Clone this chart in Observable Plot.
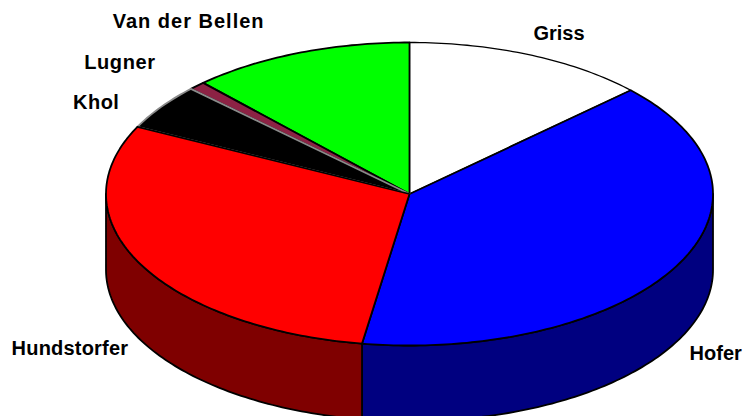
<!DOCTYPE html>
<html>
<head>
<meta charset="utf-8">
<style>html,body{margin:0;padding:0;background:#fff;overflow:hidden}svg{display:block}</style>
<script src="https://cdn.jsdelivr.net/npm/d3@7"></script>
<script src="https://cdn.jsdelivr.net/npm/@observablehq/plot@0.6"></script>
</head>
<body>
<script>
// Data (share of the pie, clockwise from the top)
const names = ["Griss", "Hofer", "Hundstorfer", "Khol", "Lugner", "Van der Bellen"];
const shares = [13.0, 39.5, 29.8, 4.9, 0.9, 11.9];
const topColors = ["#ffffff", "#0000ff", "#ff0000", "#000000", "#8c2244", "#00ff00"];
const wallColors = ["#808080", "#000080", "#7f0000", "#000000", "#46112a", "#008000"];
const edgeColors = ["#000000", "#000000", "#000000", "#8a8a8a", "#000000", "#000000"];
const drawOrder = [0, 1, 5, 4, 3, 2];
// Label placement relative to the rim point at each slice's middle angle (pixels)
const labelDx = [29, 38, -70, -65, -77, -110];
const labelDy = [-21, 89, 85, -4, -23, -31];
const labelSpacing = [0, 0, 0.2, 0.5, 0.6, 1];

const depth = 0.5; // wall height, in units of the vertical pie radius
const total = d3.sum(shares);
const ends = d3.cumsum(shares).map(v => v / total * 360);
const slices = names.map((name, i) => ({
  name, i, a0: i ? ends[i - 1] : 0, a1: ends[i]
}));
const rad = d => d * Math.PI / 180;
const rim = (a, drop = 0) => ({x: Math.sin(rad(a)), y: Math.cos(rad(a)) - drop});
const arc = (a0, a1, drop = 0) => {
  const n = Math.max(1, Math.ceil(Math.abs(a1 - a0)));
  return d3.range(n + 1).map(k => rim(a0 + (a1 - a0) * k / n, drop));
};
const wedge = s => [{x: 0, y: 0}, ...arc(s.a0, s.a1)];
const wall = s => {
  const a0 = Math.max(s.a0, 90), a1 = Math.min(s.a1, 270);
  return a1 > a0 ? [...arc(a0, a1), ...arc(a1, a0, depth)] : null;
};
const common = {x: "x", y: "y", curve: "linear-closed", strokeLinejoin: "round"};

const marks = [];
slices.forEach(s => {
  const w = wall(s);
  if (w) marks.push(Plot.line(w, {...common, fill: wallColors[s.i], stroke: "#000", strokeWidth: 1.8}));
});
drawOrder.forEach(i => {
  const s = slices[i];
  marks.push(Plot.line(wedge(s), {...common, fill: topColors[i], stroke: edgeColors[i], strokeWidth: i === 0 ? 1.3 : 1.8}));
});
slices.forEach(s => {
  const p = rim((s.a0 + s.a1) / 2);
  marks.push(Plot.text([{...p, name: s.name}], {
    x: "x", y: "y", text: "name", dx: labelDx[s.i], dy: labelDy[s.i],
    fontSize: 20, fontWeight: "bold", fontFamily: "Liberation Sans, Arial, sans-serif", fill: "#000"
  }));
});

const chart = Plot.plot({
  width: 744,
  height: 416,
  margin: 0,
  x: {axis: null, domain: [-1, 1], range: [105.5, 712.5]},
  y: {axis: null, domain: [-1, 1], range: [345, 42]},
  marks
});
d3.select(chart).selectAll("text").each(function (d, i) {
  this.style.letterSpacing = labelSpacing[i] + "px";
});
document.body.appendChild(chart);
</script>
</body>
</html>
